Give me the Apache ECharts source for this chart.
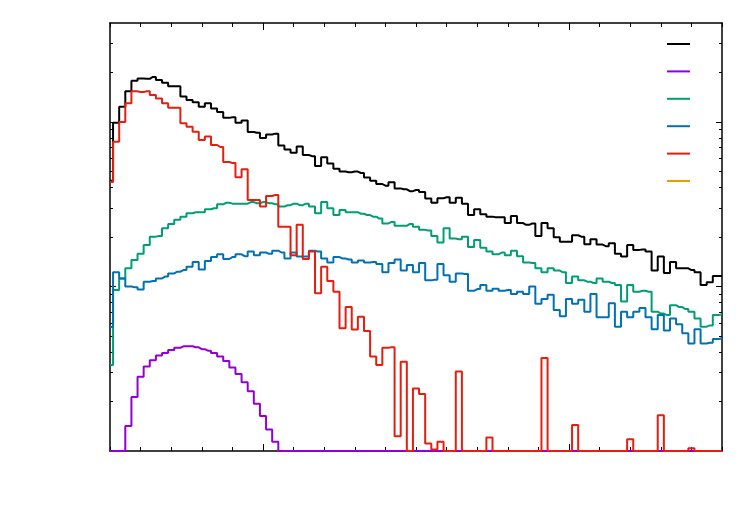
<!DOCTYPE html>
<html>
<head>
<meta charset="utf-8">
<script src="https://cdn.jsdelivr.net/npm/echarts@6/dist/echarts.min.js"></script>
<style>
  html, body { margin: 0; padding: 0; background: #fff; }
  #chart { width: 750px; height: 525px; }
</style>
</head>
<body>
<div id="chart"></div>
<script>
// histogram contents, one value per bin centre (101 points, x from 0.5 to 2.5)
const black = [44, 99, 124, 154, 178, 184, 183, 188, 180, 173,
  165, 165, 143, 136, 132, 124, 130, 121, 115, 106,
  107, 99, 102, 87, 86, 80, 84, 85, 72, 68,
  65, 71, 63, 62, 54, 61, 56, 52, 50, 49.5,
  50, 49, 46, 44, 42, 41, 43, 39.5, 39, 38,
  38.6, 37.5, 34.3, 32.3, 34.4, 34.9, 32.3, 34.7, 31.9, 27.2,
  29.5, 27.5, 26.6, 26.4, 26.4, 24.3, 26.8, 24.3, 23.7, 24.2,
  20.3, 24.3, 22.6, 19.9, 18.7, 18.7, 20.5, 20.1, 18.1, 19.4,
  18.0, 17.6, 18.3, 15.8, 15.2, 17.9, 16.7, 16.8, 16.3, 12.5,
  15.2, 12.1, 14.1, 12.9, 12.9, 12.6, 12.2, 10.2, 10.6, 11.6,
  11.6];

const purple = [1, 1, 1, 1.42, 2.13, 2.83, 3.26, 3.56, 3.81, 3.94,
  4.11, 4.24, 4.33, 4.33, 4.27, 4.16, 4.07, 3.94, 3.76, 3.53,
  3.22, 2.94, 2.62, 2.31, 1.94, 1.63, 1.35, 1.14, 1, 1,
  1, 1, 1, 1, 1, 1, 1, 1, 1, 1,
  1, 1, 1, 1, 1, 1, 1, 1, 1, 1,
  1, 1, 1, 1, 1, 1, 1, 1, 1, 1,
  1, 1, 1, 1, 1, 1, 1, 1, 1, 1,
  1, 1, 1, 1, 1, 1, 1, 1, 1, 1,
  1, 1, 1, 1, 1, 1, 1, 1, 1, 1,
  1, 1, 1, 1, 1, 1, 1, 1, 1, 1,
  1];

const green = [3.33, 9.52, 11.2, 12.9, 14.5, 15.8, 17.9, 20.1, 20.3, 22.6,
  24.0, 25.5, 26.6, 27.9, 28.3, 28.3, 29.5, 29.9, 31.6, 32.3,
  31.9, 31.9, 31.9, 32.6, 32.1, 32.6, 32.1, 31.6, 30.6, 31.2,
  31.9, 31.2, 31.9, 30.6, 27.9, 32.7, 29.9, 27.2, 29.2, 28.3,
  28.3, 27.7, 27.2, 26.6, 25.9, 24.2, 24.7, 23.4, 23.4, 24.0,
  23.1, 22.1, 21.9, 20.3, 18.5, 22.6, 19.6, 19.4, 20.1, 17.4,
  19.2, 17.2, 16.3, 15.7, 16.1, 15.5, 16.5, 15.3, 14.0, 13.9,
  12.9, 12.2, 12.9, 12.5, 12.2, 10.5, 11.5, 10.9, 10.7, 10.5,
  11.2, 10.7, 10.5, 10.2, 8.1, 10.2, 9.29, 9.42, 9.29, 7.03,
  6.85, 6.70, 7.7, 7.5, 7.3, 7.03, 6.4, 5.7, 5.8, 6.7,
  6.77];

const blue = [5.67, 12.2, 11.2, 10.0, 9.9, 9.6, 10.7, 10.8, 11.2, 11.5,
  12.0, 12.3, 12.6, 13.2, 14.1, 12.7, 14.3, 15.1, 15.7, 14.7,
  15.1, 15.7, 15.3, 16.3, 15.5, 16.1, 15.8, 16.5, 16.1, 14.8,
  16.1, 15.2, 15.2, 16.5, 16.3, 14.8, 14.0, 15.1, 14.8, 14.6,
  14.0, 14.4, 14.0, 14.1, 13.7, 12.2, 13.9, 14.6, 12.5, 13.5,
  12.2, 13.9, 10.9, 11.0, 13.7, 11.7, 10.7, 12.0, 11.9, 9.42,
  9.65, 10.2, 9.42, 9.7, 9.42, 9.52, 9.0, 9.29, 9.0, 10.0,
  7.85, 8.4, 8.9, 7.2, 6.6, 8.4, 7.85, 8.3, 7.03, 9.0,
  6.5, 6.5, 7.9, 5.7, 7.03, 6.5, 7.03, 7.4, 6.5, 5.5,
  6.7, 5.4, 6.4, 5.9, 5.2, 4.5, 5.5, 4.5, 4.55, 4.8,
  4.85];

const red = [43.2, 75.9, 100, 130, 154, 152, 154, 146, 139, 130,
  122, 122, 98.2, 93.6, 87.3, 77.7, 81.6, 72.5, 70.5, 57.1,
  56.4, 46.1, 51.6, 33.6, 33.6, 30.6, 35.5, 36.0, 23.1, 23.1,
  15.5, 23.7, 14.7, 16.3, 9.1, 13.2, 10.8, 9.29, 5.57, 7.5,
  5.47, 6.56, 5.36, 3.75, 3.33, 4.25, 4.27, 1.23, 3.49, 1,
  2.40, 2.22, 1.11, 1.02, 1.14, 1, 1, 3.04, 1, 1,
  1, 1, 1.21, 1, 1, 1, 1, 1, 1, 1,
  1, 3.68, 1, 1, 1, 1, 1.44, 1, 1, 1,
  1, 1, 1, 1, 1, 1.18, 1, 1, 1, 1,
  1.65, 1, 1, 1, 1, 1.04, 1, 1, 1, 1,
  1];

const orange = [];

const seriesNames = ["total", "sample 1", "sample 2", "sample 3", "sample 4", "sample 5"];
const seriesColors = ["#000000", "#9400d3", "#009e73", "#0072b2", "#e51e10", "#e69f00"];

const xMin = 0.5, xMax = 2.5, binWidth = 0.02;
const xMajorTicks = [1, 2];
const yMinorTicks = [2, 3, 4, 5, 6, 7, 8, 9, 20, 30, 40, 50, 60, 70, 80, 90, 200, 300];
const yMajorTicks = [10, 100];

const chart = echarts.init(document.getElementById("chart"));

const toPoints = (arr) => arr.map((v, i) => [xMin + binWidth * i, v]);

// four x axes and four y axes: minor + major ticks on each side of the frame
const xAxisBase = {
  type: "value",
  min: xMin,
  max: xMax,
  axisLabel: { show: false },
  splitLine: { show: false },
};
const yAxisBase = {
  type: "log",
  logBase: 10,
  min: 1,
  max: 400,
  axisLabel: { show: false },
  splitLine: { show: false },
};
const frameLine = { show: true, lineStyle: { color: "#000", width: 1.5 } };

const option = {
  animation: false,
  backgroundColor: "#fff",
  grid: { left: 110, right: 28, top: 23, bottom: 74, containLabel: false },
  legend: {
    orient: "vertical",
    right: 55,
    top: 32,
    align: "right",
    icon: "rect",
    itemWidth: 23,
    itemHeight: 2,
    itemGap: 13.4,
    textStyle: { color: "#fff", fontSize: 12, lineHeight: 14 },
    data: seriesNames,
  },
  xAxis: [
    { ...xAxisBase, position: "bottom", interval: 0.1, axisLine: frameLine,
      axisTick: { show: true, inside: true, length: 4, lineStyle: { color: "#000", width: 1 } } },
    { ...xAxisBase, position: "bottom", axisLine: { show: false },
      axisTick: { show: true, inside: true, length: 7, customValues: xMajorTicks, lineStyle: { color: "#000", width: 1 } } },
    { ...xAxisBase, position: "top", interval: 0.1, axisLine: frameLine,
      axisTick: { show: true, inside: true, length: 4, lineStyle: { color: "#000", width: 1 } } },
    { ...xAxisBase, position: "top", axisLine: { show: false },
      axisTick: { show: true, inside: true, length: 7, customValues: xMajorTicks, lineStyle: { color: "#000", width: 1 } } },
  ],
  yAxis: [
    { ...yAxisBase, position: "left", axisLine: frameLine,
      axisTick: { show: true, inside: true, length: 3, customValues: yMinorTicks, lineStyle: { color: "#000", width: 1 } } },
    { ...yAxisBase, position: "left", axisLine: { show: false },
      axisTick: { show: true, inside: true, length: 6, customValues: yMajorTicks, lineStyle: { color: "#000", width: 1 } } },
    { ...yAxisBase, position: "right", axisLine: frameLine,
      axisTick: { show: true, inside: true, length: 3, customValues: yMinorTicks, lineStyle: { color: "#000", width: 1 } } },
    { ...yAxisBase, position: "right", axisLine: { show: false },
      axisTick: { show: true, inside: true, length: 6, customValues: yMajorTicks, lineStyle: { color: "#000", width: 1 } } },
  ],
  series: [black, purple, green, blue, red, orange].map((arr, k) => ({
    name: seriesNames[k],
    type: "line",
    step: "middle",
    data: toPoints(arr),
    showSymbol: false,
    clip: false,
    color: seriesColors[k],
    lineStyle: { color: seriesColors[k], width: 2 },
    xAxisIndex: 0,
    yAxisIndex: 0,
  })),
};

chart.setOption(option);
</script>
</body>
</html>
